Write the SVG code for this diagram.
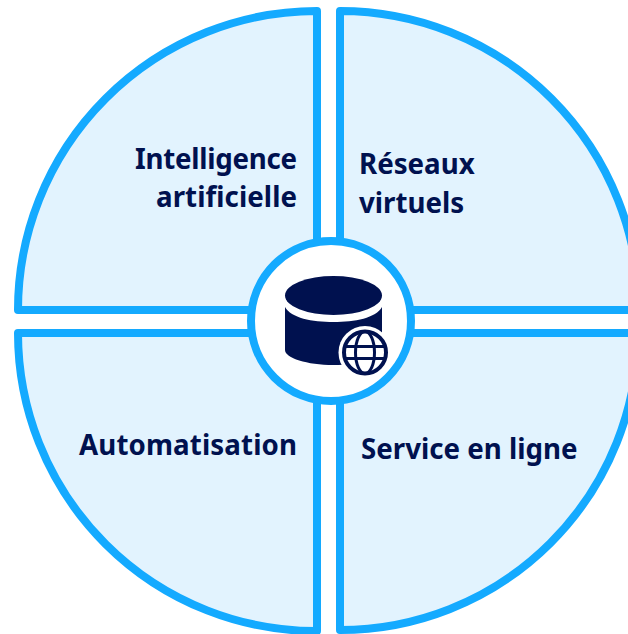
<svg xmlns="http://www.w3.org/2000/svg" width="628" height="634" viewBox="0 0 628 634">
<style>
.q{fill:#e2f3fe;stroke:#14aaff;stroke-width:8;stroke-linejoin:round}
.t{font-family:"Noto Sans","Open Sans",sans-serif;font-weight:700;font-size:27.700px;fill:#00114f}
.d{fill:#00114f}
.g{fill:none;stroke:#00114f;stroke-width:3}
</style>
<rect width="628" height="634" fill="#fff"/>
<g id="quadrant-ia"><path class="q" d="M317 11V310H18A299 299 0 0 1 317 11Z"/><text class="t" x="297" y="169" text-anchor="end" textLength="162">Intelligence</text><text class="t" x="297" y="207" text-anchor="end" textLength="141">artificielle</text></g>
<g id="quadrant-reseaux"><path class="q" d="M340 11V310H639A299 299 0 0 0 340 11Z"/><text class="t" x="359" y="174">Réseaux</text><text class="t" x="359" y="212.500">virtuels</text></g>
<g id="quadrant-automatisation"><path class="q" d="M317 333V631A298 298 0 0 1 18 333Z"/><text class="t" x="297" y="454.500" text-anchor="end" textLength="218">Automatisation</text></g>
<g id="quadrant-service"><path class="q" d="M340 333V630A298 298 0 0 0 638 333Z"/><text class="t" x="361" y="458.500">Service en ligne</text></g>
<g id="centre">
<circle cx="331" cy="321" r="80" fill="#fff" stroke="#14aaff" stroke-width="8"/>
<path class="d" d="M285 307C291 318 312 322 333.500 322C355 322 376 318 382 307V350C382 358 360 365 333.500 365C307 365 285 358 285 350Z"/>
<ellipse class="d" cx="333.500" cy="295.500" rx="48.500" ry="19.500"/>
<circle cx="365" cy="352.500" r="26.500" fill="#fff"/>
<g class="g"><circle cx="365" cy="352.500" r="21" stroke-width="4"/><ellipse cx="365" cy="352.500" rx="9.500" ry="21"/><path d="M345 346.500H385M345 358.500H385"/></g>
</g>
</svg>
